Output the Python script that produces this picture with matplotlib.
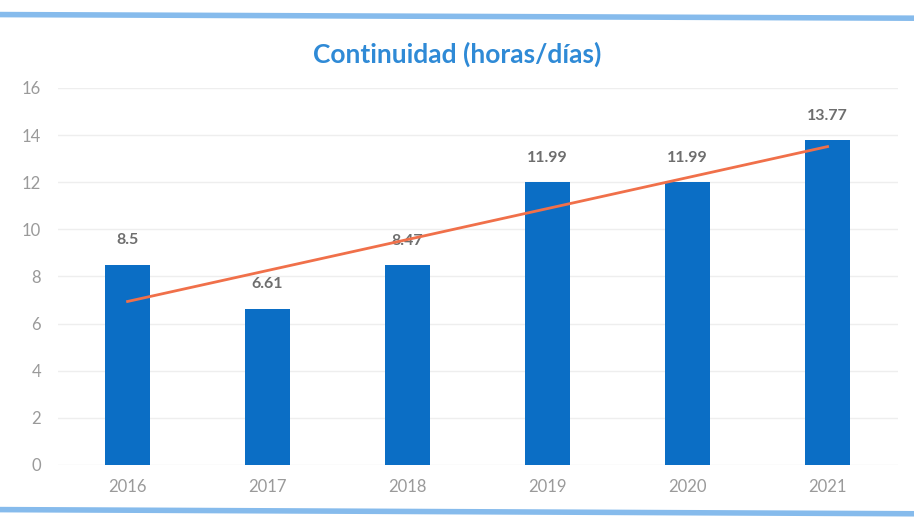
import matplotlib
matplotlib.use('Agg')
import matplotlib.pyplot as plt
from matplotlib.lines import Line2D
import numpy as np

plt.rcParams['font.family'] = ['Lato', 'DejaVu Sans']

# data
years = ['2016', '2017', '2018', '2019', '2020', '2021']
values = [8.5, 6.61, 8.47, 11.99, 11.99, 13.77]
value_labels = ['8.5', '6.61', '8.47', '11.99', '11.99', '13.77']
yticks = [0, 2, 4, 6, 8, 10, 12, 14, 16]

fig = plt.figure(figsize=(9.14, 5.2), dpi=100)
ax = fig.add_axes([0.063, 0.106, 0.919, 0.725])

x = np.arange(len(years))
ax.bar(x, values, width=0.32, color='#0b6ec5', zorder=3)

# linear trend line
m, b = np.polyfit(x, values, 1)
ax.plot(x, m * x + b, color='#f0704a', linewidth=2, zorder=4)

for xi, v, lab in zip(x, values, value_labels):
    ax.text(xi, v + 0.75, lab, ha='center', va='bottom', fontsize=11.5,
            fontweight='bold', color='#6e6e6e')

ax.set_xlim(-0.5, 5.5)
ax.set_ylim(0, 16)
ax.set_yticks(yticks)
ax.set_xticks(x)
ax.set_xticklabels(years)
ax.tick_params(axis='both', length=0, labelsize=12, colors='#9a9a9a')
ax.tick_params(axis='x', pad=10)
ax.tick_params(axis='y', pad=12)
ax.grid(axis='y', color='#eeeeee', linewidth=1, zorder=0)
for s in ax.spines.values():
    s.set_visible(False)

fig.text(0.5, 0.895, 'Continuidad (horas/días)', ha='center', va='center',
         fontsize=19, fontweight='bold', color='#2f8ad6')

# light blue border lines at top and bottom
fig.add_artist(Line2D([0, 1], [0.972, 0.965], transform=fig.transFigure,
                      color='#86bbec', linewidth=4))
fig.add_artist(Line2D([0, 1], [0.02, 0.012], transform=fig.transFigure,
                      color='#86bbec', linewidth=4))

fig.savefig('out.png', dpi=100)
